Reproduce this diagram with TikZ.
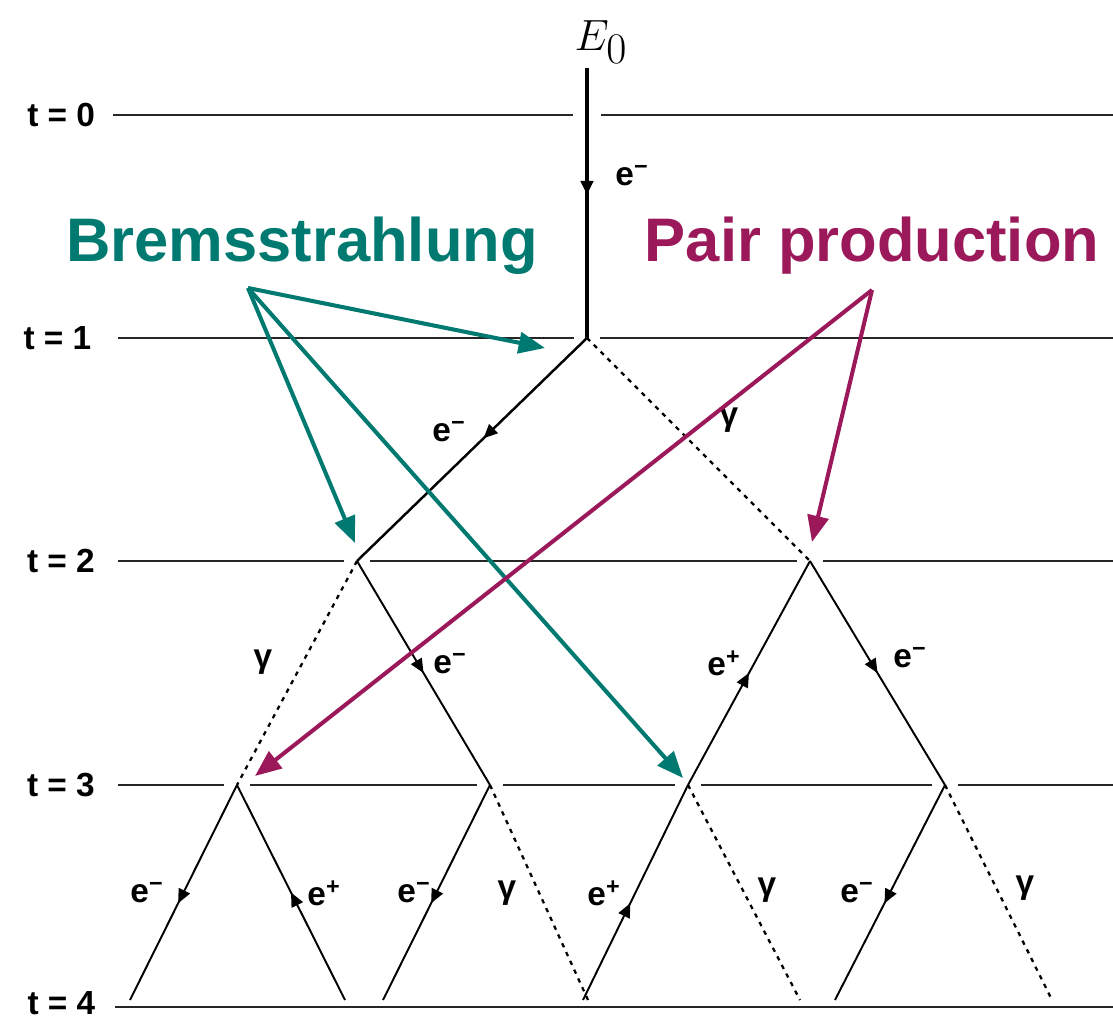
\documentclass[tikz,border=0pt]{standalone}
\usepackage{fontspec}
\setmainfont{Liberation Sans}
\usetikzlibrary{positioning, arrows.meta, calc, decorations.markings}

\definecolor{bremsteal}{RGB}{0,122,112}
\definecolor{pairmagenta}{RGB}{155,25,90}

\newcommand{\ElecM}{e\textsuperscript{−}}
\newcommand{\ElecP}{e\textsuperscript{+}}

\begin{document}
\begin{tikzpicture}[
    x=0.02cm, y=-0.02cm,
    timeline/.style={line width=1.4pt, black!85},
    electron/.style={line width=1.1pt},
    photon/.style={line width=1.3pt, dash pattern=on 2.5pt off 3pt},
    fwd/.style={postaction={decorate}, decoration={markings,
        mark=at position #1 with {\arrow{Triangle[length=8pt, width=7pt]}}}},
    bwd/.style={postaction={decorate}, decoration={markings,
        mark=at position #1 with {\arrowreversed{Triangle[length=8pt, width=7pt]}}}},
    tlabel/.style={font=\bfseries\fontsize{19}{22}\selectfont, inner sep=0pt},
    plabel/.style={font=\bfseries\fontsize{19}{22}\selectfont, inner sep=0pt},
    process/.style={font=\bfseries\fontsize{35}{40}\selectfont, anchor=base, inner sep=0pt},
    brems/.style={-{Triangle[length=15pt, width=12pt]}, line width=2.3pt, bremsteal},
    pair/.style={-{Triangle[length=15pt, width=12pt]}, line width=2.3pt, pairmagenta}
]
\useasboundingbox (0,0) rectangle (1113,1023);

% ===== VERTICES =====
\coordinate (top) at (587,68);
\coordinate (cross0) at (587,115);
\coordinate (v1) at (587,338);
\coordinate (v2a) at (357,561);
\coordinate (v2b) at (810,561);
\coordinate (v3a) at (237,785);
\coordinate (v3b) at (490,785);
\coordinate (v3c) at (688,785);
\coordinate (v3d) at (945,785);

% ===== ENDS AT t = 4 =====
\coordinate (f1) at (130,1000);
\coordinate (f2) at (345,1000);
\coordinate (f3) at (383,1000);
\coordinate (f4) at (588,1000);
\coordinate (f5) at (583,1000);
\coordinate (f6) at (800,1000);
\coordinate (f7) at (835,1000);
\coordinate (f8) at (1052,1000);

% ===== TIME LINES =====
\coordinate (l0) at (113,115);  \coordinate (r0) at (1113,115);
\coordinate (l1) at (118,338);  \coordinate (r1) at (1113,338);
\coordinate (l2) at (118,561);  \coordinate (r2) at (1113,561);
\coordinate (l3) at (118,785);  \coordinate (r3) at (1113,785);
\coordinate (l4) at (115,1007); \coordinate (r4) at (1113,1007);

\draw[timeline] (l0) -- ($(cross0)+(-14,0)$) ($(cross0)+(14,0)$) -- (r0);
\draw[timeline] (l1) -- ($(v1)+(-13,0)$) ($(v1)+(13,0)$) -- (r1);
\draw[timeline] (l2) -- ($(v2a)+(-13,0)$) ($(v2a)+(13,0)$) -- ($(v2b)+(-13,0)$)
    ($(v2b)+(13,0)$) -- (r2);
\draw[timeline] (l3) -- ($(v3a)+(-13,0)$) ($(v3a)+(13,0)$) -- ($(v3b)+(-13,0)$)
    ($(v3b)+(13,0)$) -- ($(v3c)+(-13,0)$) ($(v3c)+(13,0)$) -- ($(v3d)+(-13,0)$)
    ($(v3d)+(13,0)$) -- (r3);
\draw[timeline] (l4) -- (r4);

\node[tlabel, left=10pt of l0] (t0) {t = 0};
\node[tlabel, left=15pt of l1] (t1) {t = 1};
\node[tlabel, left=13pt of l2] (t2) {t = 2};
\node[tlabel, left=13pt of l3] (t3) {t = 3};
\node[tlabel, left=11pt of l4, yshift=2pt] (t4) {t = 4};

% ===== SHOWER =====
\node[font=\fontsize{33}{36}\selectfont, inner sep=0pt] (e0) at (601,42) {$E_0$};
\draw[electron, line width=2pt, fwd=0.47] (top) -- (v1);

\draw[electron, line width=1.4pt, fwd=0.45] (v1) -- (v2a);
\draw[photon] (v1) -- (v2b);

\draw[photon] (v2a) -- (v3a);
\draw[electron, fwd=0.5] (v2a) -- (v3b);
\draw[electron, bwd=0.5] (v2b) -- (v3c);
\draw[electron, fwd=0.5] (v2b) -- (v3d);

\draw[electron, fwd=0.55] (v3a) -- (f1);
\draw[electron, bwd=0.5] (v3a) -- (f2);
\draw[electron, fwd=0.55] (v3b) -- (f3);
\draw[photon] (v3b) -- (f4);
\draw[electron, bwd=0.55] (v3c) -- (f5);
\draw[photon] (v3c) -- (f6);
\draw[electron, fwd=0.55] (v3d) -- (f7);
\draw[photon] (v3d) -- (f8);

% ===== PARTICLE LABELS =====
\node[plabel] (p0) at (632,176) {\ElecM};
\node[plabel] (p1) at (449,432) {\ElecM};
\node[plabel] (p2) at (729,420) {γ};
\node[plabel] (p3) at (263,662) {γ};
\node[plabel] (p4) at (450,664) {\ElecM};
\node[plabel] (p5) at (724,663) {\ElecP};
\node[plabel] (p6) at (910,658) {\ElecM};
\node[plabel] (p7) at (147,893) {\ElecM};
\node[plabel] (p8) at (324,893) {\ElecP};
\node[plabel] (p9) at (414,893) {\ElecM};
\node[plabel] (p10) at (507,893) {γ};
\node[plabel] (p11) at (604,893) {\ElecP};
\node[plabel] (p12) at (767,890) {γ};
\node[plabel] (p13) at (857,893) {\ElecM};
\node[plabel] (p14) at (1025,888) {γ};

% ===== PROCESS LABELS =====
\node[process, bremsteal] (brems) at (302,262) {Bremsstrahlung};
\node[process, pairmagenta] (pair) at (872,262) {Pair production};

\coordinate (bs) at (248,288);
\coordinate (bt1) at (545,348);
\coordinate (bt2) at (355,543);
\coordinate (bt3) at (683,778);
\coordinate (ps) at (872,290);
\coordinate (pt1) at (812,542);
\coordinate (pt2) at (255,776);

\draw[brems] (bs) -- (bt1);
\draw[brems] (bs) -- (bt2);
\draw[brems] (bs) -- (bt3);
\draw[pair] (ps) -- (pt1);
\draw[pair] (ps) -- (pt2);

\end{tikzpicture}
\end{document}
